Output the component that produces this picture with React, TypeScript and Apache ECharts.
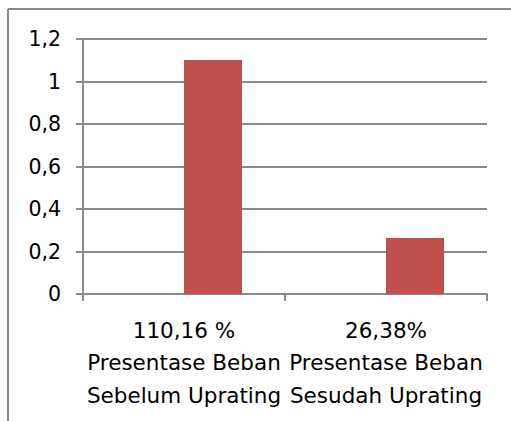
import React, { useEffect, useRef } from "react";
import * as echarts from "echarts";

const categories = [
  "110,16 %\nPresentase Beban\nSebelum Uprating",
  "26,38%\nPresentase Beban\nSesudah Uprating",
];
const emptySeries: (number | null)[] = [null, null];
const loadValues = [1.1016, 0.2638];
const yMin = 0;
const yMax = 1.2;
const yStep = 0.2;

export default function App() {
  const ref = useRef<HTMLDivElement>(null);
  useEffect(() => {
    if (!ref.current) return;
    const chart = echarts.init(ref.current, null, { renderer: "svg" });
    const gray = "#8a8a8a";
    const font = "DejaVu Sans";
    chart.setOption({
      animation: false,
      backgroundColor: "#ffffff",
      grid: { left: 83, right: 24, top: 39, bottom: 127, containLabel: false },
      xAxis: {
        type: "category",
        data: categories,
        axisLine: { show: true, lineStyle: { color: gray, width: 2 } },
        axisTick: { show: true, length: 7, lineStyle: { color: gray, width: 2 } },
        axisLabel: {
          interval: 0,
          margin: 20,
          color: "#000000",
          fontFamily: font,
          fontSize: 21.5,
          lineHeight: 32.5,
          align: "center",
        },
        splitLine: { show: false },
      },
      yAxis: {
        type: "value",
        min: yMin,
        max: yMax,
        interval: yStep,
        axisLine: { show: true, lineStyle: { color: gray, width: 2 } },
        axisTick: { show: true, length: 7, lineStyle: { color: gray, width: 2 } },
        axisLabel: {
          margin: 22,
          color: "#000000",
          fontFamily: font,
          fontSize: 20.5,
          formatter: (v: number) => {
            const r = Math.round(v * 10) / 10;
            return Number.isInteger(r) ? String(r) : r.toFixed(1).replace(".", ",");
          },
        },
        splitLine: { show: true, lineStyle: { color: gray, width: 2 } },
      },
      series: [
        {
          name: "Series 0",
          type: "bar",
          data: emptySeries,
          barWidth: 58,
          barGap: "0%",
          itemStyle: { color: "#4f81bd" },
        },
        {
          name: "Series 1",
          type: "bar",
          data: loadValues,
          barWidth: 58,
          barGap: "0%",
          itemStyle: { color: "#c0504d" },
        },
      ],
      graphic: [
        {
          type: "line",
          shape: { x1: 8, y1: 9, x2: 511, y2: 9 },
          style: { stroke: gray, lineWidth: 2 },
        },
        {
          type: "line",
          shape: { x1: 8, y1: 9, x2: 8, y2: 421 },
          style: { stroke: gray, lineWidth: 2 },
        },
      ],
    });
    return () => chart.dispose();
  }, []);
  return (
    <div
      ref={ref}
      style={{ position: "fixed", left: 0, top: 0, width: 511, height: 421 }}
    />
  );
}
